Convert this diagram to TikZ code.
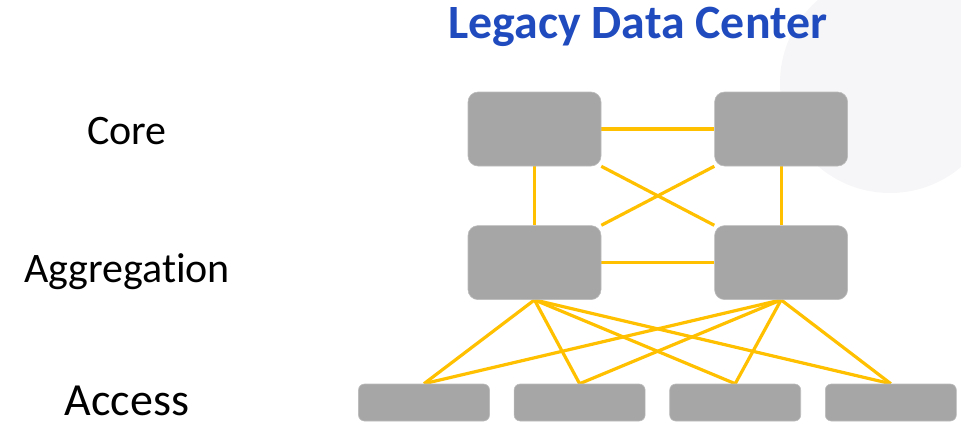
\documentclass[tikz,border=0pt]{standalone}
\usepackage{fontspec}
\setmainfont{Carlito}[Ligatures=NoCommon]
\usetikzlibrary{positioning,backgrounds}
\def\boxwidth{133pt}
\def\boxheight{74pt}
\def\accwidth{131pt}
\def\accheight{37pt}
\def\boxsep{113pt}
\def\layersep{59pt}
\def\accsep{24pt}
\definecolor{gold}{HTML}{FFC000}
\definecolor{switchgray}{HTML}{A6A6A6}
\definecolor{titleblue}{HTML}{1F4BBF}
\definecolor{haze}{HTML}{F6F6F8}

\begin{document}
\begin{tikzpicture}[x=1pt,y=-1pt, node distance=\layersep and \boxsep, link/.style={draw=gold,line width=3.2pt}]
    \tikzstyle{switch box}=[rectangle,rounded corners=10pt,fill=switchgray,draw=switchgray!75,line width=0.6pt,minimum width=\boxwidth,minimum height=\boxheight,inner sep=0pt]
    \tikzstyle{access box}=[switch box,rounded corners=6pt,minimum width=\accwidth,minimum height=\accheight,node distance=\accsep]
    \tikzstyle{layer label}=[anchor=base,inner sep=0pt,font=\fontsize{42}{50}\selectfont]
    \useasboundingbox (0,0) rectangle (961,426);
    \clip (0,0) rectangle (961,426);
    % Title
    \node[anchor=base,inner sep=0pt,text=titleblue,font=\fontsize{47.8}{56}\selectfont\bfseries] (title) at (638,38) {Legacy Data Center};

    % Draw the switches
    \node[switch box] (core-1) at (534.5,129) {};
    \node[switch box, right=of core-1] (core-2) {};
    \node[switch box, below=of core-1] (agg-1) {};
    \node[switch box, below=of core-2] (agg-2) {};

    \node[access box] (acc-1) at (424,402.5) {};
    \foreach \name [count=\prev] in {2,...,4}
        \node[access box, right=of acc-\prev] (acc-\name) {};

    % Annotate the layers
    \node[layer label] (core) at (127,144) {Core};
    \node[layer label] (aggregation) at (127,282) {Aggregation};
    \node[layer label, font=\fontsize{46}{54}\selectfont] (access) at (127,415) {Access};

    % Connect the switches
    \begin{scope}[on background layer]
        \fill[haze] (890,83) circle (110);
        \draw [link] (core-1) -- (core-2);
        \draw [link] (agg-1) -- (agg-2);
        \foreach \name in {1,2}
            \draw [link] (core-\name) -- (agg-\name);
        \draw [link] (core-1.south east) -- (agg-2.north west);
        \draw [link] (core-2.south west) -- (agg-1.north east);
        \foreach \source in {1,2}
            \foreach \dest in {1,...,4}
                \draw [link] (agg-\source.south) -- (acc-\dest.north);
    \end{scope}
\end{tikzpicture}
\end{document}
